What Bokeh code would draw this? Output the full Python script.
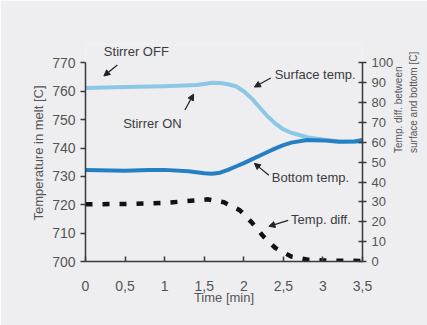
from math import pi
from bokeh.plotting import figure
from bokeh.models import (LinearAxis, Range1d, Label, Arrow, NormalHead, FixedTicker)
from bokeh.embed import file_html
from bokeh.resources import INLINE

# ---- data ----
surface_t = [0, 0.5, 1.0, 1.4, 1.5, 1.6, 1.7, 1.8, 1.9, 2.0, 2.1, 2.2, 2.3, 2.4, 2.5, 2.6, 2.8, 3.0, 3.2, 3.5]
surface_T = [761.2, 761.5, 761.8, 762.2, 762.6, 763.0, 762.9, 762.5, 761.8, 760.0, 757.5, 754.3, 751.2, 748.6, 746.6, 745.4, 743.8, 743.0, 742.4, 742.2]

bottom_t = [0, 0.5, 0.8, 1.0, 1.3, 1.5, 1.6, 1.7, 1.8, 1.9, 2.0, 2.1, 2.2, 2.3, 2.4, 2.5, 2.6, 2.8, 3.0, 3.2, 3.4, 3.5]
bottom_T = [732.3, 732.0, 732.3, 732.3, 731.8, 731.1, 730.9, 731.3, 732.3, 733.5, 734.7, 736.0, 737.3, 738.6, 739.9, 741.0, 741.9, 742.8, 742.7, 742.2, 742.3, 742.8]

diff_t = [0, 0.5, 1.0, 1.4, 1.55, 1.75, 1.95, 2.1, 2.25, 2.4, 2.6, 2.8, 3.0, 3.5]
diff_v = [28.8, 29.0, 29.5, 30.8, 31.3, 29.8, 25.8, 19.7, 12.5, 6.8, 2.5, 1.0, 0.5, 0.3]

x_ticks = [0, 0.5, 1, 1.5, 2, 2.5, 3, 3.5]
x_tick_labels = ["0", "0,5", "1", "1,5", "2", "2,5", "3", "3,5"]
left_ticks = [700, 710, 720, 730, 740, 750, 760, 770]
right_ticks = [0, 10, 20, 30, 40, 50, 60, 70, 80, 90, 100]

FONT = "Liberation Sans"
BG = "#eeeef0"
TXT = "#3c3c3c"
TICK = "#555555"
AX = "#3a3a3a"

Y_TOP = 776.5            # room above the axes for the "Stirrer OFF" note
R_TOP = (Y_TOP - 700) * 100 / 70

p = figure(width=427, height=325, x_range=Range1d(0, 3.5), y_range=Range1d(700, Y_TOP),
           output_backend="svg", toolbar_location=None,
           min_border_left=85, min_border_right=55, min_border_top=44, min_border_bottom=64)
p.extra_y_ranges = {"diff": Range1d(0, R_TOP)}
p.background_fill_color = BG
p.border_fill_color = BG
p.outline_line_color = None
p.xgrid.visible = False
p.ygrid.visible = False

# lines
p.line(surface_t, surface_T, line_color="#8cc8e6", line_width=4, line_cap="round", line_join="round")
p.line(bottom_t, bottom_T, line_color="#2580c3", line_width=4, line_cap="round", line_join="round")
p.line(diff_t, diff_v, y_range_name="diff", line_color="#111111", line_width=4.5,
       line_dash="7 10", line_cap="butt")

# axes styling
def style(ax, label_size="13px", tick_size="14px"):
    ax.axis_line_color = AX
    ax.axis_line_width = 1.5
    ax.major_tick_line_color = AX
    ax.major_tick_line_width = 1.5
    ax.minor_tick_line_color = None
    ax.major_label_text_font = FONT
    ax.major_label_text_font_size = tick_size
    ax.major_label_text_color = TICK
    ax.axis_label_text_font = FONT
    ax.axis_label_text_font_size = label_size
    ax.axis_label_text_font_style = "normal"
    ax.axis_label_text_color = TICK

def upward(ax):
    try:
        ax.axis_label_orientation = pi / 2
    except Exception:
        pass

xa = p.xaxis[0]
style(xa)
xa.ticker = FixedTicker(ticks=x_ticks)
xa.major_label_overrides = {t: l for t, l in zip(x_ticks, x_tick_labels)}
xa.major_tick_in = 5
xa.major_tick_out = 0
xa.major_label_standoff = 19
xa.axis_label = "Time [min]"
xa.axis_label_standoff = -4

ya = p.yaxis[0]
style(ya)
ya.bounds = (700, 770)
ya.ticker = FixedTicker(ticks=left_ticks)
ya.major_tick_in = 0
ya.major_tick_out = 5
ya.major_label_standoff = 5
ya.axis_label = "Temperature in melt [C]"
ya.axis_label_standoff = 3

# right axis with first line of its title
ra = LinearAxis(y_range_name="diff")
style(ra, "10px", "13px")
ra.bounds = (0, 100)
ra.ticker = FixedTicker(ticks=right_ticks)
ra.major_tick_in = 4
ra.major_tick_out = 4
ra.major_label_standoff = 5
ra.axis_label = "Temp. diff. between"
ra.axis_label_standoff = 2
ra.axis_label_text_line_height = 0.9
upward(ra)
p.add_layout(ra, "right")

# second line of the right title (bare axis, no line / ticks)
ra2 = LinearAxis(y_range_name="diff")
style(ra2, "10px", "13px")
ra2.ticker = FixedTicker(ticks=[])
ra2.axis_line_color = None
ra2.major_tick_line_color = None
ra2.major_tick_in = 0
ra2.major_tick_out = 0
ra2.major_label_standoff = 0
ra2.axis_label = "surface and bottom [C]"
ra2.axis_label_standoff = 1
ra2.axis_label_text_line_height = 0.9
upward(ra2)
p.add_layout(ra2, "right")

# annotations
def note(x, y, text):
    p.add_layout(Label(x=x, y=y, text=text, text_align="left", text_baseline="middle",
                       text_font=FONT, text_font_size="13px", text_color=TXT))

def arrow(x0, y0, x1, y1):
    p.add_layout(Arrow(x_start=x0, y_start=y0, x_end=x1, y_end=y1,
                       line_color="#222222", line_width=1.2,
                       end=NormalHead(size=6, fill_color="#222222", line_color="#222222")))

note(0.232, 773.9, "Stirrer OFF")
arrow(0.402, 769.3, 0.232, 765.4)
note(0.476, 748.8, "Stirrer ON")
arrow(1.256, 753.4, 1.366, 759.0)
note(2.39, 765.8, "Surface temp.")
arrow(2.341, 764.7, 2.134, 761.5)
note(2.354, 729.7, "Bottom temp.")
arrow(2.317, 730.4, 2.134, 734.6)
note(2.598, 714.8, "Temp. diff.")
arrow(2.561, 714.5, 2.317, 712.4)

open("out.html", "w").write(file_html(p, INLINE))
